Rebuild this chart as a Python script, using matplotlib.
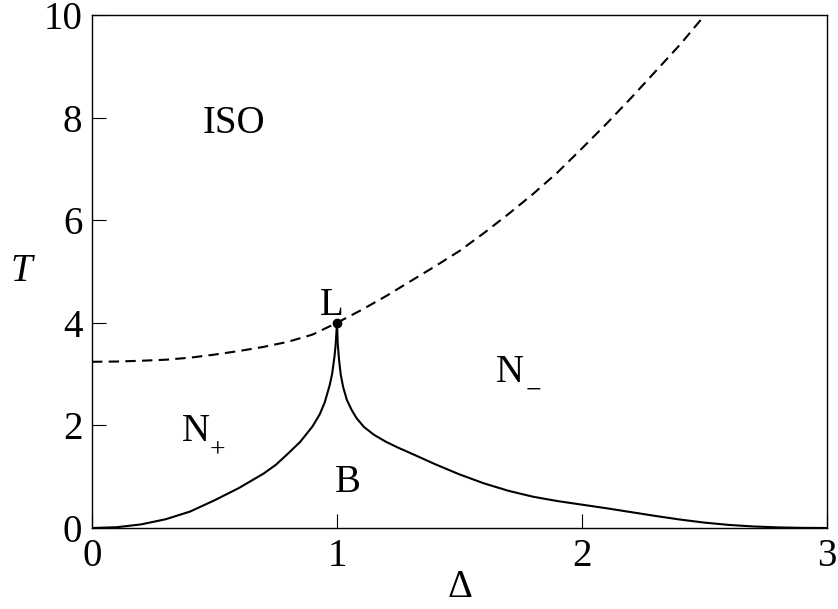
import matplotlib
matplotlib.use("Agg")
import matplotlib.pyplot as plt

# fase-diagrama: ramo esquerdo (solido) da curva N+ / B
delta_esq = [0.0, 0.1, 0.2, 0.3, 0.4, 0.5, 0.6, 0.7, 0.75, 0.8, 0.85, 0.9, 0.93, 0.95,
             0.97, 0.98, 0.99, 0.995, 1.0]
temp_esq = [0.0, 0.015, 0.07, 0.17, 0.32, 0.54, 0.78, 1.06, 1.23, 1.45, 1.68, 1.98, 2.22, 2.45,
            2.78, 3.0, 3.35, 3.6, 4.0]

# ramo direito (solido) da curva N- / B
delta_dir = [1.0, 1.003, 1.008, 1.015, 1.025, 1.04, 1.06, 1.08, 1.11, 1.15, 1.2, 1.25, 1.3,
             1.4, 1.5, 1.6, 1.7, 1.8, 1.9, 2.0, 2.1, 2.2, 2.3, 2.4, 2.5, 2.6, 2.7, 2.8, 2.9, 3.0]
temp_dir = [4.0, 3.6, 3.3, 3.0, 2.75, 2.5, 2.3, 2.14, 1.97, 1.82, 1.68, 1.565, 1.46,
            1.245, 1.045, 0.87, 0.725, 0.61, 0.525, 0.455, 0.385, 0.31, 0.235, 0.165, 0.105,
            0.06, 0.03, 0.012, 0.003, 0.0]

# linha tracejada ISO
delta_iso = [0.0, 0.1, 0.2, 0.3, 0.4, 0.5, 0.6, 0.7, 0.8, 0.9, 1.0, 1.1, 1.2, 1.3, 1.4, 1.5,
             1.6, 1.7, 1.8, 1.9, 2.0, 2.1, 2.2, 2.3, 2.4, 2.5, 2.502]
temp_iso = [3.24, 3.245, 3.26, 3.28, 3.32, 3.38, 3.45, 3.53, 3.63, 3.77, 4.0, 4.25, 4.52, 4.81,
            5.10, 5.40, 5.75, 6.12, 6.51, 6.93, 7.40, 7.88, 8.38, 8.90, 9.42, 9.99, 10.0]

ponto_l = (1.0, 4.0)

rotulos = ["ISO", "L", "N", "N", "B"]
pos_rotulos = [(0.453, 7.70), (0.931, 4.15), (1.649, 2.85), (0.367, 1.70), (0.992, 0.70)]
indices = ["\u2212", "+"]
pos_indices = [(1.769, 2.55), (0.480, 1.384)]

plt.rcParams["font.family"] = ["Liberation Serif", "DejaVu Serif"]
plt.rcParams["mathtext.fontset"] = "custom"
plt.rcParams["mathtext.rm"] = "Liberation Serif"
plt.rcParams["mathtext.it"] = "Liberation Serif:italic"

fig = plt.figure(figsize=(8.38, 6.09), dpi=100)
ax = fig.add_axes([0.1098, 0.133, 0.877, 0.8424])

ax.plot(delta_esq, temp_esq, color="black", lw=1.5)
ax.plot(delta_dir, temp_dir, color="black", lw=1.5)
ax.plot(delta_iso, temp_iso, color="black", lw=1.5, linestyle=(0, (5, 3)))
ax.plot(*ponto_l, "o", color="black", ms=6)

for texto, (x, y) in zip(rotulos, pos_rotulos):
    ax.text(x, y, texto, fontsize=28, ha="left", va="baseline")
for texto, (x, y) in zip(indices, pos_indices):
    ax.text(x, y, texto, fontsize=20, ha="left", va="baseline")

ax.set_xlim(0, 3)
ax.set_ylim(0, 10)
ax.set_xticks([0, 1, 2, 3])
ax.set_yticks([0, 2, 4, 6, 8, 10])
ax.tick_params(direction="in", length=10, width=0.8, labelsize=28, pad=7,
               top=False, right=False)
for sp in ax.spines.values():
    sp.set_linewidth(1.0)

ax.set_xlabel(r"$\Delta$", fontsize=28)
ax.xaxis.set_label_coords(0.5, -0.08)
ax.set_ylabel(r"$T$", fontsize=28, rotation=0, va="center", ha="center")
ax.yaxis.set_label_coords(-0.094, 0.5)

fig.savefig("out.png", dpi=100)
